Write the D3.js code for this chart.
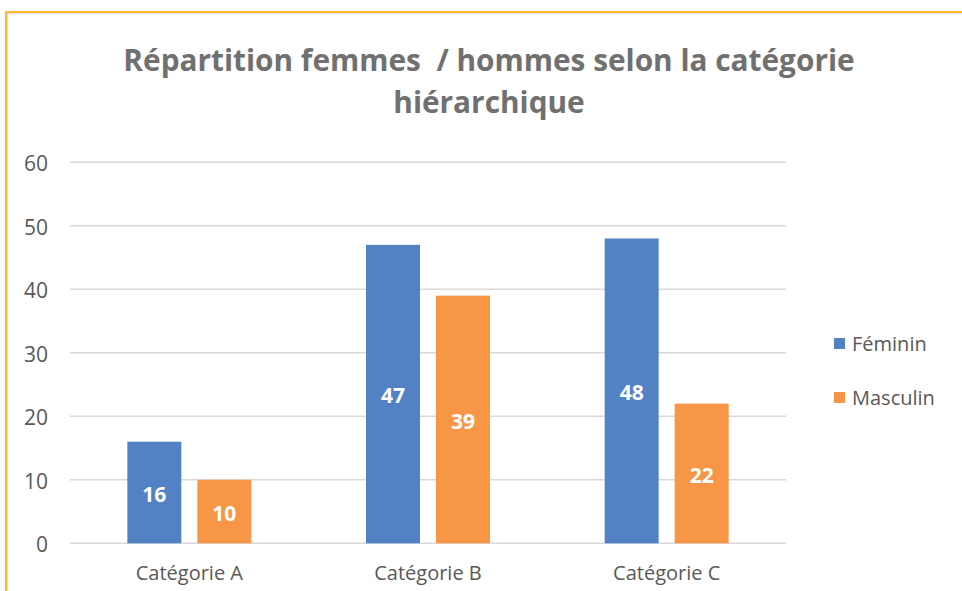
<!DOCTYPE html>
<html>
<head>
<meta charset="utf-8">
<script src="https://cdn.jsdelivr.net/npm/d3@7"></script>
<style>
  html, body { margin: 0; padding: 0; background: #fff; }
  svg { display: block; }
</style>
</head>
<body>
<svg id="chart" width="962" height="591"></svg>
<script>
const categories = ["Catégorie A", "Catégorie B", "Catégorie C"];
const seriesNames = ["Féminin", "Masculin"];
const feminin = [16, 47, 48];
const masculin = [10, 39, 22];
const yTicks = [0, 10, 20, 30, 40, 50, 60];
const titleLines = ["Répartition femmes  / hommes selon la catégorie", "hiérarchique"];

const colors = ["#5282C4", "#F79646"];
const font = "'Open Sans', sans-serif";

const svg = d3.select("#chart");
const W = 962, H = 591;

// frame
svg.append("rect").attr("x", 7.5).attr("y", 13.5).attr("width", W + 20).attr("height", H + 20)
  .attr("fill", "none").attr("stroke", "#E0E0E0").attr("stroke-width", 1);
svg.append("rect").attr("x", 6).attr("y", 12).attr("width", W + 20).attr("height", H + 20)
  .attr("fill", "none").attr("stroke", "#FDBB2D").attr("stroke-width", 2);

const plot = { left: 70, right: 786, top: 162.3, bottom: 543.3 };

const y = d3.scaleLinear().domain([0, 60]).range([plot.bottom, plot.top]);
const x0 = d3.scaleBand().domain(categories).range([plot.left, plot.right]).padding(0);
const groupW = 124;
const x1 = d3.scaleBand().domain(seriesNames).range([0, groupW]).paddingInner(16 / 70).paddingOuter(0);

// gridlines
svg.append("g").selectAll("line").data(yTicks).join("line")
  .attr("x1", plot.left).attr("x2", plot.right)
  .attr("y1", d => y(d)).attr("y2", d => y(d))
  .attr("stroke", "#D9D9D9").attr("stroke-width", 1.5);

// y axis labels via d3 axis
const yAxis = svg.append("g").attr("transform", `translate(${plot.left - 8},0)`)
  .call(d3.axisLeft(y).tickValues(yTicks).tickSize(0).tickPadding(14));
yAxis.select(".domain").remove();
yAxis.selectAll("text").attr("fill", "#595959").attr("dy", "0.4em")
  .style("font-family", font).style("font-size", "21px");

// x axis labels
const xAxis = svg.append("g").attr("transform", `translate(0,${plot.bottom})`)
  .call(d3.axisBottom(x0).tickSize(0).tickPadding(23));
xAxis.select(".domain").remove();
xAxis.selectAll("text").attr("fill", "#595959")
  .style("font-family", font).style("font-size", "20px");

// bars
const data = categories.map((c, i) => ({ cat: c, vals: [
  { s: seriesNames[0], v: feminin[i], c: colors[0] },
  { s: seriesNames[1], v: masculin[i], c: colors[1] }
]}));

const groups = svg.append("g").selectAll("g").data(data).join("g")
  .attr("transform", d => `translate(${x0(d.cat) + (x0.bandwidth() - groupW) / 2},0)`);

groups.selectAll("rect").data(d => d.vals).join("rect")
  .attr("x", d => x1(d.s)).attr("width", x1.bandwidth())
  .attr("y", d => y(d.v)).attr("height", d => y(0) - y(d.v))
  .attr("fill", d => d.c);

groups.selectAll("text").data(d => d.vals).join("text")
  .attr("x", d => x1(d.s) + x1.bandwidth() / 2)
  .attr("y", d => (y(d.v) + y(0)) / 2 + 1.5)
  .attr("dy", "0.36em")
  .attr("text-anchor", "middle")
  .attr("fill", "#fff")
  .style("font-family", font).style("font-size", "21px").style("font-weight", "bold")
  .text(d => d.v);

// title
svg.append("g").selectAll("text").data(titleLines).join("text")
  .attr("x", 489).attr("y", (d, i) => 71 + i * 42)
  .attr("text-anchor", "middle")
  .attr("fill", "#707070")
  .style("font-family", font).style("font-size", "29.8px").style("font-weight", "bold")
  .style("white-space", "pre")
  .text(d => d);

// legend
const legend = svg.append("g").selectAll("g").data(seriesNames).join("g")
  .attr("transform", (d, i) => `translate(834,${338 + i * 54})`);
legend.append("rect").attr("width", 11).attr("height", 11).attr("fill", (d, i) => colors[i]);
legend.append("text").attr("x", 18).attr("y", 5.5).attr("dy", "0.36em")
  .attr("fill", "#595959").style("font-family", font).style("font-size", "20px")
  .text(d => d);
</script>
</body>
</html>
